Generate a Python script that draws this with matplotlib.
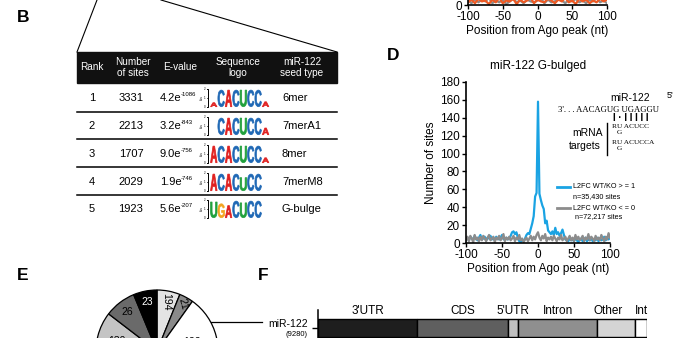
import numpy as np
import matplotlib
matplotlib.use("Agg")
import matplotlib.pyplot as plt
from matplotlib.patches import Rectangle, PathPatch
from matplotlib.textpath import TextPath
from matplotlib.font_manager import FontProperties
from matplotlib.transforms import Affine2D

plt.rcParams['font.family'] = 'Liberation Sans'
plt.rcParams['axes.unicode_minus'] = False

# ---- data ----
# panel B table
ranks = ['1', '2', '3', '4', '5']
n_sites = [3331, 2213, 1707, 2029, 1923]
e_mant = ['4.2', '3.2', '9.0', '1.9', '5.6']
e_exp = ['-1086', '-843', '-756', '-746', '-207']
seed_types = ['6mer', '7merA1', '8mer', '7merM8', 'G-bulge']
logo_seqs = ['ACACUCCA', ' CACUCCA', 'ACACUCCA', 'ACACUCC', 'UGACUCC']
logo_bits = [
    [0.5, 1.9, 1.9, 1.9, 1.9, 1.9, 1.9, 0.6],
    [0.0, 1.9, 1.9, 1.9, 1.9, 1.9, 1.9, 0.8],
    [1.9, 1.9, 1.9, 1.9, 1.9, 1.9, 1.9, 0.6],
    [1.9, 1.9, 1.9, 1.9, 1.5, 1.9, 1.9],
    [1.8, 1.6, 1.4, 1.9, 1.7, 1.9, 1.9],
]

# panel C (only the bottom is visible)
c_pos = np.arange(-100, 101, 5)
c_orange = [3,6,2,7,4,5,1,6,3,8,2,5,4,7,1,6,3,5,8,2,6,4,3,7,5,2,6,4,8,3,5,1,7,4,6,2,5,3,7,4,6]
c_gray = [5,2,7,3,6,4,8,2,5,3,6,1,4,7,3,5,2,6,4,3,5,7,2,6,3,4,8,5,2,6,4,7,3,5,2,6,4,8,3,5,2]

# panel D
d_pos = np.arange(-100, 101, 2)
d_up = [4,6,3,7,5,4,8,5,3,6,9,4,5,7,3,6,5,8,4,6,3,7,5,4,6,9,5,3,6,4,
        5,8,12,13,10,12,6,2,1,3,2,5,9,11,10,16,22,30,52,56,158,55,48,42,38,22,25,14,12,10,13,9,17,10,12,8,11,15,9,4,3,
        2,5,3,4,2,6,3,1,4,5,2,3,6,2,4,3,5,2,4,3,6,2,5,3,4,7,3,5,4,6]
d_down = [3,7,2,8,5,1,9,4,6,2,7,3,8,5,2,6,9,3,5,7,1,6,4,8,3,5,10,2,6,4,
          7,3,5,8,2,6,4,9,3,5,1,4,6,2,5,8,3,7,4,9,12,6,3,8,5,10,2,6,4,7,3,8,5,2,6,4,9,3,5,7,2,
          5,8,3,6,2,9,4,7,3,5,8,2,6,4,10,3,7,5,2,8,4,6,3,9,5,2,7,4,11,6]

# panel E pie (slice sizes in degrees, clockwise from top)
pie_labels = ['194', '21', '122', '', '130', '26', '23']
pie_sizes = [22, 13.5, 81, 144, 47, 30, 22.5]
pie_colors = ['#e4e4e4', '#8a8a8a', '#ffffff', '#a0a0a0', '#c4c4c4', '#6a6a6a', '#000000']

# panel F
f_labels = ["3'UTR", "CDS", "5'UTR", "Intron", "Other", "Int"]
f_values = [30.1, 27.7, 3.0, 24.0, 11.6, 3.6]
f_colors = ['#1e1e1e', '#5f5f5f', '#c0c0c0', '#8f8f8f', '#d4d4d4', '#ffffff']

W, H = 676, 338
fig = plt.figure(figsize=(W / 100, H / 100), dpi=100)


def px_axes(x0, y0, x1, y1):
    a = fig.add_axes([x0 / W, 1 - y1 / H, (x1 - x0) / W, (y1 - y0) / H])
    a.patch.set_visible(False)
    return a


ov = fig.add_axes([0, 0, 1, 1])
ov.set_xlim(0, W)
ov.set_ylim(H, 0)
ov.axis('off')

# panel letters
for lab, x, y in [('B', 17, 18), ('D', 387, 56), ('E', 17, 276), ('F', 258, 276)]:
    ov.text(x, y, lab, fontsize=12.5, fontweight='bold', ha='left', va='center')

# zoom lines from above
ov.plot([97, 77], [0, 52], color='black', lw=0.8)
ov.plot([161, 337], [0, 52], color='black', lw=0.8)

# ---- B: table ----
ov.add_patch(Rectangle((77, 52), 260, 31, color='#111111'))
headers = ['Rank', 'Number\nof sites', 'E-value', 'Sequence\nlogo', 'miR-122\nseed type']
for txt, x in zip(headers, [92, 133, 180, 238, 302]):
    ov.text(x, 67.5, txt, color='white', ha='center', va='center', fontsize=7.2, linespacing=1.05)

row_y = [98, 126, 154, 182, 209]
for y in [112, 139, 167, 195]:
    ov.plot([77, 337], [y, y], color='black', lw=1.1)

base_colors = {'A': '#e0201f', 'C': '#1f68b5', 'G': '#f3a41f', 'U': '#20a03c'}
fp = FontProperties(family='Liberation Sans', weight='bold')


def draw_letter(ch, x, ybot, w, h, color):
    tp = TextPath((0, 0), ch, size=1, prop=fp)
    bb = tp.get_extents()
    tr = Affine2D().translate(-bb.x0, -bb.y0).scale(w / bb.width, -h / bb.height).translate(x, ybot)
    ov.add_patch(PathPatch(tp, transform=tr + ov.transData, fc=color, ec=color, lw=0.5))


for i, y in enumerate(row_y):
    ov.text(92, y, ranks[i], ha='center', va='center', fontsize=8)
    ov.text(131, y, str(n_sites[i]), ha='center', va='center', fontsize=8)
    ov.text(160, y, e_mant[i] + 'e', ha='left', va='center', fontsize=8)
    ov.text(181, y - 3.5, e_exp[i], ha='left', va='center', fontsize=4.3)
    ov.text(282, y, seed_types[i], ha='left', va='center', fontsize=8)
    # logo
    ybot = y + 9
    ov.plot([206.5, 208, 208, 206.5], [ybot - 18, ybot - 18, ybot, ybot], color='black', lw=0.7)
    ov.plot([207, 208], [ybot - 9, ybot - 9], color='black', lw=0.5)
    for k, t in enumerate(['0', '1', '2']):
        ov.text(205.5, ybot - 9 * k, t, fontsize=2.2, ha='right', va='center')
    ov.text(202, ybot - 9, 'bits', fontsize=2.2, rotation=90, ha='center', va='center')
    for j, ch in enumerate(logo_seqs[i]):
        if ch == ' ' or logo_bits[i][j] <= 0:
            continue
        draw_letter(ch, 210 + 7.4 * j + 0.5, ybot - 0.3, 6.6, 9 * logo_bits[i][j] - 0.5, base_colors[ch])

# ---- C: bottom of profile plot ----
axc = px_axes(468, 5 - 161, 607, 5)
axc.plot(c_pos, c_gray, color='#8c8c8c', lw=1.6)
axc.plot(c_pos, c_orange, color='#ee5a24', lw=1.6)
axc.set_xlim(-100, 100)
axc.set_ylim(0, 180)
axc.set_yticks(np.arange(0, 181, 20))
axc.set_xticks([-100, -50, 0, 50, 100])
axc.set_xlabel('Position from Ago peak (nt)', fontsize=8.5, labelpad=1)

# ---- D ----
axd = px_axes(466, 82, 610, 243)
axd.plot(d_pos, d_up, color='#1aa3e3', lw=1.6)
axd.plot(d_pos, d_down, color='#8c8c8c', lw=1.6)
axd.set_xlim(-100, 100)
axd.set_ylim(0, 180)
axd.set_yticks(np.arange(0, 181, 20))
axd.set_xticks([-100, -50, 0, 50, 100])
axd.set_xlabel('Position from Ago peak (nt)', fontsize=8.5, labelpad=1)
axd.set_ylabel('Number of sites', fontsize=8.5, labelpad=2)
axd.set_title('miR-122 G-bulged', fontsize=8.5, pad=9)

for a in (axc, axd):
    for s in ('top', 'right'):
        a.spines[s].set_visible(False)
    for s in ('left', 'bottom'):
        a.spines[s].set_linewidth(1.2)
    a.tick_params(direction='out', length=3, width=1, labelsize=8.5, pad=1.5)

# D legend
ov.plot([557, 570], [187, 187], color='#1aa3e3', lw=2)
ov.plot([557, 570], [208, 208], color='#8c8c8c', lw=2)
ov.text(573, 187, 'L2FC WT/KO > = 1', fontsize=5.2, va='center')
ov.text(573, 197, 'n=35,430 sites', fontsize=5.2, va='center')
ov.text(573, 208, 'L2FC WT/KO < = 0', fontsize=5.2, va='center')
ov.text(575, 217, 'n=72,217 sites', fontsize=5.2, va='center')

# D pairing diagram
ov.text(630, 98, 'miR-122', fontsize=7.5, ha='center', va='center')
ov.text(670, 95, "5'", fontsize=6.5, ha='center', va='center')
ov.text(558, 110, "3'. . . AACAGUG UGAGGU", fontsize=6.2, family='Liberation Serif', ha='left', va='center')
ov.text(613, 118, 'I · I I I I I', fontsize=7, fontweight='bold', ha='left', va='center')
ov.text(588, 133, 'mRNA', fontsize=7.5, ha='center', va='center')
ov.text(585, 146, 'targets', fontsize=7.5, ha='center', va='center')
ov.plot([607, 607], [123, 155], color='black', lw=1)
ov.text(612, 127, 'RU ACUCC', fontsize=5.3, family='Liberation Serif', ha='left', va='center')
ov.text(617, 132.5, 'G', fontsize=5.3, family='Liberation Serif', ha='left', va='center')
ov.text(612, 143, 'RU ACUCCA', fontsize=5.3, family='Liberation Serif', ha='left', va='center')
ov.text(617, 148.5, 'G', fontsize=5.3, family='Liberation Serif', ha='left', va='center')

# ---- E: pie ----
axe = px_axes(96, 290, 218, 412)
wedges, _ = axe.pie(pie_sizes, colors=pie_colors, startangle=90, counterclock=False,
                    wedgeprops=dict(edgecolor='black', linewidth=0.9))
axe.set_xlim(-1, 1)
axe.set_ylim(-1, 1)
label_r = [0.82, 0.89, 0.6, 0.5, 0.68, 0.8, 0.82]
label_rot = [-90, -75, 0, 0, 0, 0, 0]
for w, lab, r, rot, col in zip(wedges, pie_labels, label_r, label_rot, pie_colors):
    mid = np.deg2rad((w.theta1 + w.theta2) / 2)
    axe.text(r * np.cos(mid), r * np.sin(mid), lab, fontsize=7.5, ha='center', va='center',
             rotation=rot, color='white' if col == '#000000' else 'black')
ov.text(68, 343, 'Top 10', fontsize=7.5, ha='center', va='center')
ov.plot([211, 262], [322, 322], color='black', lw=0.9)
ov.text(308, 324, 'miR-122', fontsize=7.5, ha='right', va='center')
ov.text(307, 334.5, '(9280)', fontsize=5.5, ha='right', va='center')

# ---- F: stacked bar ----
axf = px_axes(318, 310, 647, 346)
left = 0
for lab, v, c in zip(f_labels, f_values, f_colors):
    axf.barh(0, v, left=left, height=1.0, color=c, edgecolor='black', linewidth=1)
    nudge = -2.5 if lab == 'Other' else 0
    axf.text(left + v / 2 + nudge, 0.93, lab, fontsize=8.5, ha='center', va='center')
    left += v
axf.set_xlim(0, 100)
axf.set_ylim(-1, 1)
axf.set_yticks([0])
axf.set_yticklabels([''])
axf.set_xticks([])
for s in ('top', 'right', 'bottom'):
    axf.spines[s].set_visible(False)
axf.spines['left'].set_linewidth(1.1)
axf.tick_params(axis='y', direction='out', length=4, width=1)

fig.savefig('out.png', dpi=100)
